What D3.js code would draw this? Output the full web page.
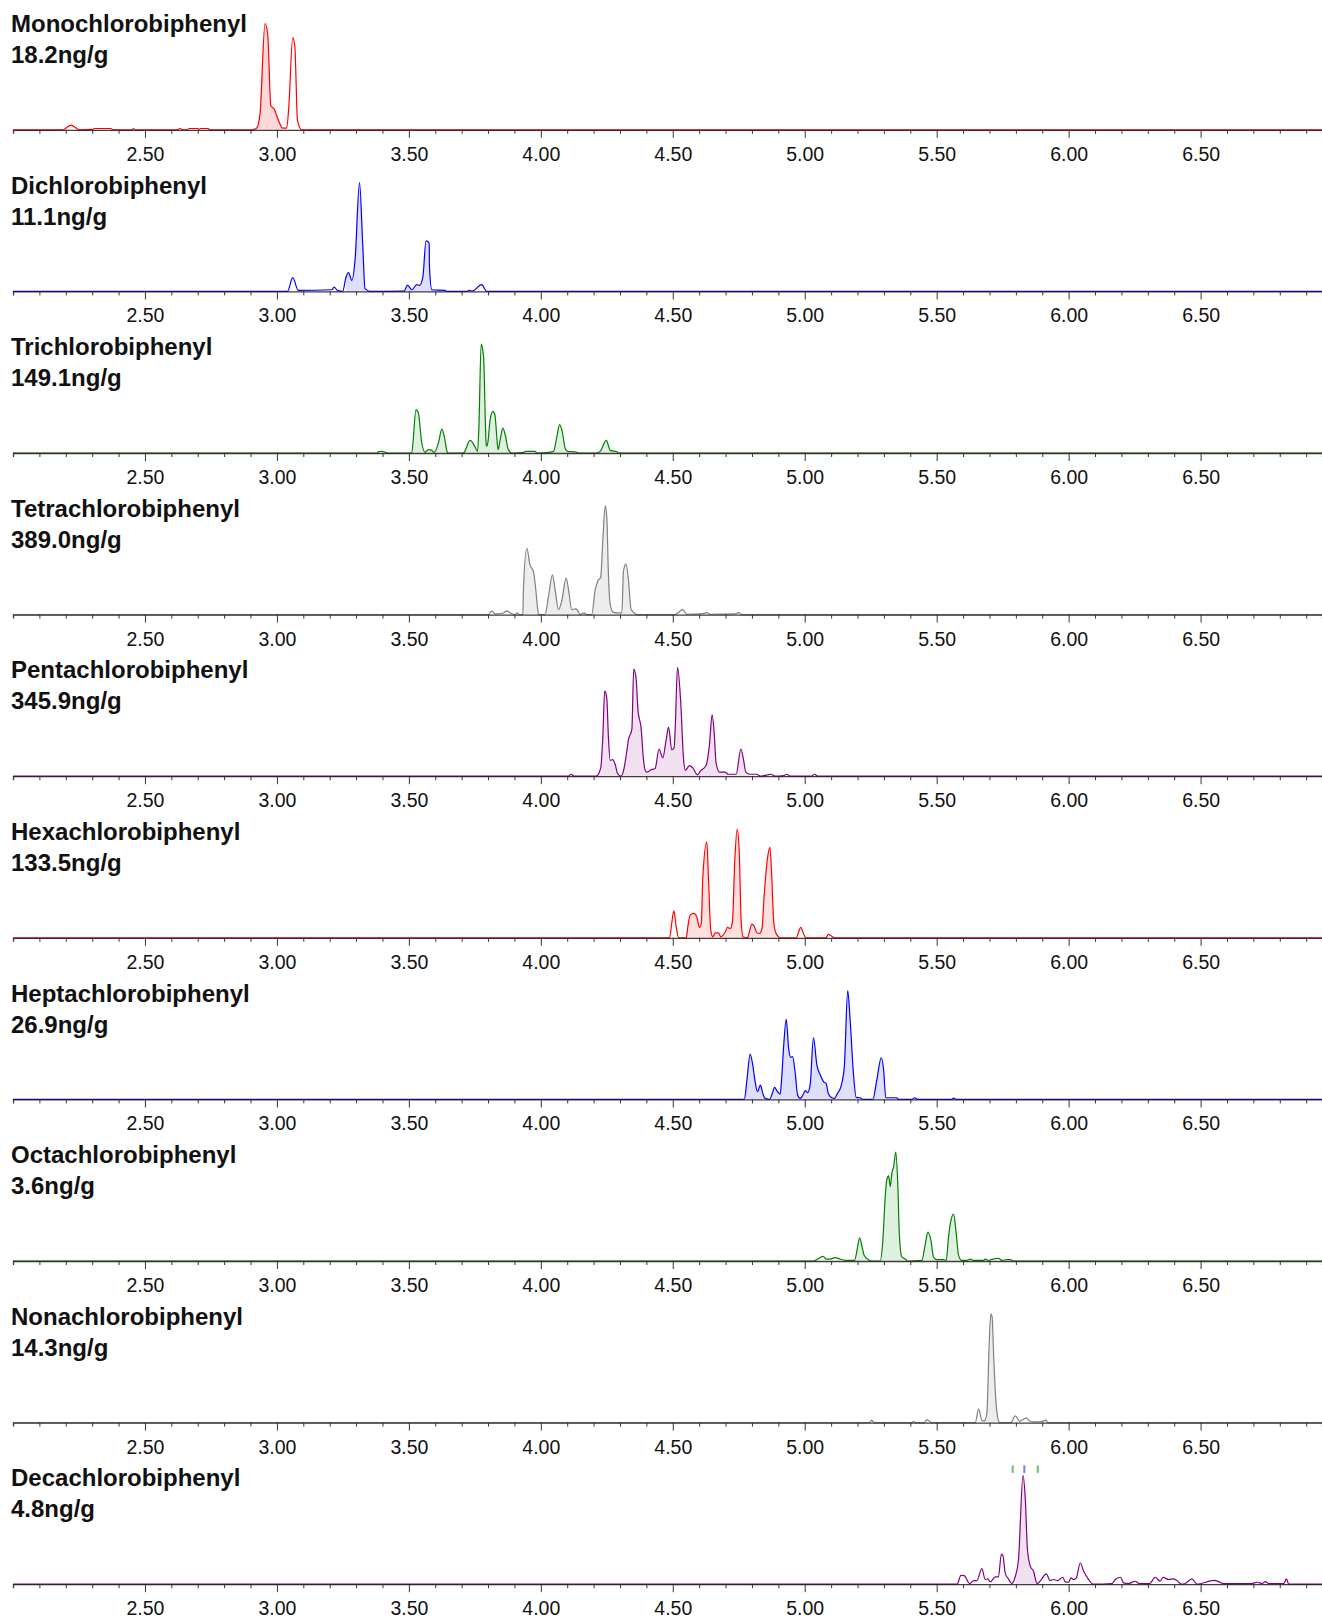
<!DOCTYPE html>
<html>
<head>
<meta charset="utf-8">
<script src="https://cdn.jsdelivr.net/npm/d3@7/dist/d3.min.js"></script>
<style>
  html, body { margin: 0; padding: 0; background: #fff; }
  svg { display: block; }
  .title { font-family: "Liberation Sans", Arial, sans-serif; font-weight: bold; font-size: 24px; fill: #111; }
  .tick-label { font-family: "Liberation Sans", Arial, sans-serif; font-size: 19.5px; fill: #111; }
</style>
</head>
<body>
<svg id="chart" width="1322" height="1616"></svg>
<script>
// ---- Data ----
const compounds = ["Monochlorobiphenyl","Dichlorobiphenyl","Trichlorobiphenyl","Tetrachlorobiphenyl","Pentachlorobiphenyl","Hexachlorobiphenyl","Heptachlorobiphenyl","Octachlorobiphenyl","Nonachlorobiphenyl","Decachlorobiphenyl"];
const amounts = ["18.2ng/g","11.1ng/g","149.1ng/g","389.0ng/g","345.9ng/g","133.5ng/g","26.9ng/g","3.6ng/g","14.3ng/g","4.8ng/g"];
const colors = ["#ff0000","#0000ff","#008000","#808080","#800080","#ff0000","#0000ff","#008000","#808080","#800080"];
const tickLabels = ["2.50","3.00","3.50","4.00","4.50","5.00","5.50","6.00","6.50"];
const timeDomain = [2.0, 6.96];

// retention time (min), relative intensity (%)
const mono = [[2.0,0],[2.19,0],[2.20,1.5],[2.22,4.3],[2.24,1.5],[2.25,0],[2.30,0.4],[2.31,1.2],[2.37,1.2],[2.38,0],[2.45,0],[2.456,1.2],[2.465,0],[2.62,0],[2.633,1.2],[2.645,0],[2.66,0],[2.668,1.2],[2.70,1.2],[2.705,0.4],[2.71,1.2],[2.74,1.2],[2.745,0],
  [2.905,0],[2.923,1.5],[2.936,14.7],[2.955,97.5],[2.965,88.3],[2.977,22.1],[2.989,19.3],[3.006,8.6],[3.022,1.5],[3.037,1.5],[3.045,20.9],[3.060,84.7],[3.068,76.1],[3.078,8.6],[3.094,0],[6.96,0]];
const di = [[2.0,0],[3.040,0],[3.060,12.6],[3.081,0.9],[3.208,1.5],[3.217,4],[3.229,0.9],[3.249,0],[3.262,13.2],[3.271,17.2],[3.284,10.2],[3.296,28.6],[3.313,100],[3.325,44],[3.334,2.5],[3.353,0],
  [3.482,0.3],[3.495,5.8],[3.511,1.5],[3.530,6.2],[3.540,5.5],[3.553,13.2],[3.565,46.5],[3.573,45.5],[3.577,44],[3.578,23],[3.587,1.5],[3.637,1],[3.644,0],
  [3.720,0],[3.730,1],[3.740,0.3],[3.776,6.2],[3.795,0],[6.96,0]];
const tri = [[2.0,0],[3.380,0],[3.385,1.2],[3.397,1.5],[3.416,0.3],[3.42,0],[3.505,0],[3.511,0.6],[3.527,39.8],[3.536,36.7],[3.549,9.2],[3.562,0.6],[3.574,3.1],[3.587,2.4],[3.596,0.6],[3.612,9.2],[3.625,22],[3.634,15.3],[3.646,0.6],[3.65,0],
  [3.705,0],[3.709,0.6],[3.732,11.6],[3.751,5.5],[3.760,1.5],[3.765,21.4],[3.774,100],[3.783,88.7],[3.793,7.6],[3.795,6.2],[3.799,9.2],[3.808,30.6],[3.818,38.2],[3.826,35.2],[3.833,15.3],[3.838,3.1],[3.846,12.2],[3.856,22.9],[3.865,16.8],[3.877,3.1],[3.890,0],
  [3.937,0.6],[3.941,1.5],[3.978,1.5],[3.985,0],[4.029,0.6],[4.048,1.5],[4.061,15.3],[4.071,26],[4.081,19.9],[4.092,4.6],[4.101,1.5],[4.134,0.9],[4.143,0],
  [4.210,0],[4.225,1.5],[4.248,11.6],[4.263,2.4],[4.288,1.2],[4.294,0],[6.96,0]];
const tetra = [[2.0,0],[3.802,0],[3.814,3.4],[3.827,0.6],[3.858,1.5],[3.871,3.4],[3.884,1.5],[3.903,0],[3.911,1.5],[3.919,0],[3.932,0],[3.934,22.9],[3.947,61],[3.959,45.7],[3.972,39.6],[3.981,22.9],[3.987,7.6],[3.992,0],
  [4.016,0],[4.029,16.8],[4.044,36.6],[4.054,22.9],[4.067,4.6],[4.079,12.2],[4.096,33.5],[4.105,22.9],[4.117,4.6],[4.130,5.2],[4.139,4],[4.149,0],[4.164,1.5],[4.174,0],
  [4.193,0],[4.206,22.9],[4.215,30.5],[4.227,34.5],[4.235,68.6],[4.244,100],[4.250,89.9],[4.256,38.1],[4.263,9.1],[4.275,2.1],[4.301,1.5],[4.307,1.5],[4.313,39.6],[4.323,46.6],[4.332,32],[4.342,4.6],[4.351,2.1],[4.364,0],
  [4.505,0],[4.515,0.9],[4.538,4.6],[4.553,0.3],[4.616,0.9],[4.629,1.8],[4.642,0.3],[4.736,0.6],[4.749,1.8],[4.762,0],[6.96,0]];
const penta = [[2.0,0],[4.105,0],[4.115,1.8],[4.126,0],[4.210,0],[4.227,7.6],[4.235,36.6],[4.242,78.4],[4.250,71.6],[4.256,36.6],[4.263,14.6],[4.272,15.2],[4.282,10.7],[4.290,3],[4.303,0],[4.313,4.6],[4.323,18.3],[4.332,33.5],[4.345,43.3],[4.352,98.5],[4.361,89.9],[4.368,61],[4.380,44.2],[4.389,15.2],[4.397,4.6],[4.404,3.7],[4.414,5.5],[4.433,7],[4.448,25],[4.462,16.8],[4.475,33.5],[4.484,45.1],[4.496,24.4],[4.505,25.9],[4.509,42.7],[4.518,100],[4.530,68.6],[4.541,15.2],[4.548,5.5],[4.563,9.8],[4.576,7.6],[4.594,1.2],[4.604,4.6],[4.626,9.8],[4.639,29],[4.649,56.4],[4.657,39.6],[4.664,12.2],[4.677,3.7],[4.698,3.7],[4.711,1.8],[4.740,1.8],[4.758,25],[4.768,15.2],[4.777,3.7],[4.793,1.8],[4.819,1.8],[4.831,0],[4.859,1.2],[4.872,1.8],[4.888,0],[4.920,0.6],[4.932,1.8],[4.945,0],[5.027,0],[5.037,1.8],[5.049,0],[6.96,0]];
const hexa = [[2.0,0],[4.488,0],[4.496,13.2],[4.504,24.8],[4.513,10.1],[4.522,0],[4.551,0],[4.557,10.1],[4.566,20.9],[4.579,22.4],[4.591,19.3],[4.601,9.5],[4.608,13.2],[4.614,56.1],[4.629,88.3],[4.635,56.1],[4.644,7.1],[4.652,0.9],[4.661,4.6],[4.673,4.6],[4.682,0.9],[4.699,5.5],[4.707,9.5],[4.718,8.6],[4.726,14.7],[4.735,71.5],[4.744,100],[4.752,77.6],[4.759,16.3],[4.766,0.9],[4.783,0],[4.790,5.5],[4.800,12.6],[4.808,10.7],[4.819,4.6],[4.829,4],[4.838,8.6],[4.846,37.7],[4.858,71.5],[4.868,83.1],[4.875,56.1],[4.882,16.3],[4.889,5.5],[4.901,0.9],[4.907,0],
  [4.968,0],[4.977,5.5],[4.985,9.5],[4.995,4],[5.004,0],[5.080,0],[5.090,3.1],[5.099,2.1],[5.112,0],[6.96,0]];
const hepta = [[2.0,0],[4.771,0],[4.781,17.8],[4.793,41.7],[4.802,33.1],[4.812,16.3],[4.821,7.1],[4.832,13.2],[4.841,5.5],[4.850,0.9],[4.867,0],[4.875,4],[4.886,11],[4.894,8],[4.907,4.9],[4.913,20.9],[4.920,48.5],[4.930,73.6],[4.939,46.9],[4.947,38.7],[4.954,39.3],[4.964,23.9],[4.973,4],[4.983,0.9],[4.993,4],[5.002,8],[5.011,6.1],[5.021,14.7],[5.033,56.7],[5.046,31.6],[5.059,22.4],[5.071,16.3],[5.081,14.7],[5.090,4.9],[5.103,1.5],[5.113,0.9],[5.124,5.5],[5.137,11.7],[5.150,30.1],[5.163,100],[5.172,73],[5.185,22.4],[5.195,1.8],[5.210,1.5],[5.220,0],[5.258,0],[5.273,17.8],[5.290,38.3],[5.299,27],[5.307,1.5],[5.349,1.5],[5.355,0],[5.406,0],[5.416,1.5],[5.428,0],[5.558,0],[5.564,1.2],[5.574,0],[6.96,0]];
const octa = [[2.0,0],[5.033,0],[5.052,2.2],[5.069,4.3],[5.081,1.8],[5.096,1.8],[5.115,3.1],[5.134,1.8],[5.157,0.6],[5.189,0.6],[5.198,9.8],[5.208,21.2],[5.216,14.5],[5.225,5.2],[5.242,1.2],[5.254,0],[5.286,0],[5.296,19.1],[5.305,59.1],[5.311,74.5],[5.318,78.2],[5.324,68.3],[5.330,80.6],[5.337,86.8],[5.345,100],[5.352,74.5],[5.359,22.2],[5.368,3.7],[5.381,1.8],[5.390,0],[5.444,0.6],[5.457,16],[5.467,26.5],[5.478,19.1],[5.488,3.7],[5.501,1.2],[5.526,1.2],[5.536,0.6],[5.545,22.2],[5.551,33.5],[5.564,43.1],[5.574,25.2],[5.583,5.2],[5.595,0.6],[5.614,0.6],[5.627,1.8],[5.640,0.6],[5.678,0.6],[5.684,1.8],[5.697,0.6],[5.709,1.5],[5.734,2.5],[5.747,0.6],[5.766,1.2],[5.779,1.2],[5.791,0],[6.96,0]];
const nona = [[2.0,0],[5.246,0],[5.254,2.2],[5.263,0],[5.406,0],[5.412,1.2],[5.419,0],[5.453,0],[5.463,2.8],[5.476,0.6],[5.482,0],[5.646,0],[5.659,12.3],[5.671,2.2],[5.680,1.5],[5.690,8.3],[5.699,72.9],[5.705,100],[5.710,97.5],[5.716,60.6],[5.726,14.5],[5.738,0],[5.781,0],[5.798,6.2],[5.814,1.2],[5.827,2.8],[5.839,4.3],[5.854,1.2],[5.870,0.6],[5.892,0.6],[5.915,2.2],[5.920,0],[6.96,0]];
const deca = [[2.0,0],[5.577,0],[5.592,8.2],[5.604,7.9],[5.625,0.6],[5.640,3.3],[5.652,3.3],[5.671,14.3],[5.684,4.3],[5.693,4.9],[5.703,2.1],[5.722,6.7],[5.734,6.7],[5.745,27.7],[5.751,26.1],[5.760,9.7],[5.772,4.9],[5.785,0.6],[5.798,7.3],[5.810,22.5],[5.827,100],[5.836,77.2],[5.844,31.6],[5.855,16.4],[5.867,11.9],[5.880,0.6],[5.892,2.7],[5.915,9.4],[5.930,3.3],[5.943,4.3],[5.958,3.3],[5.978,6.4],[5.987,2.1],[6.000,1.8],[6.009,5.8],[6.019,4.3],[6.029,5.8],[6.044,19.5],[6.057,11.9],[6.076,4.3],[6.092,0],[6.164,0.6],[6.177,4.3],[6.196,6.4],[6.208,1.2],[6.227,0.6],[6.252,2.7],[6.269,0.6],[6.307,0.6],[6.328,6.4],[6.347,2.7],[6.357,6.4],[6.379,4.3],[6.398,4.9],[6.410,3.3],[6.429,0],[6.442,0.6],[6.467,4.9],[6.486,0],[6.552,3.6],[6.568,2.4],[6.587,0.6],[6.695,0.6],[6.714,1.8],[6.733,0.6],[6.745,2.4],[6.758,0.6],[6.815,0.6],[6.825,4.9],[6.834,0],[6.96,0]];

// integrated (filled) retention-time windows per compound
const fillWindows = [
  [[2.90, 3.03]],
  [[3.25, 3.36], [3.48, 3.65]],
  [[3.50, 3.90], [4.02, 4.15], [4.20, 4.30]],
  [[3.93, 4.37]],
  [[4.20, 4.80]],
  [[4.55, 4.91]],
  [[4.77, 5.36]],
  [[5.18, 5.60]],
  [[5.68, 5.74]],
  [[5.79, 5.89]]
];
// retention-window markers drawn above the decachlorobiphenyl peak
const decaMarkers = [5.788, 5.832, 5.883];
const decaMarkerColors = ["#6cbf6c", "#7b7bf0", "#6cbf6c"];

const traces = [mono, di, tri, tetra, penta, hexa, hepta, octa, nona, deca];
const fills = ["rgba(255,0,0,0.15)","rgba(0,0,255,0.13)","rgba(0,128,0,0.12)","rgba(128,128,128,0.14)","rgba(128,0,128,0.12)","rgba(255,0,0,0.13)","rgba(0,0,255,0.13)","rgba(0,128,0,0.12)","rgba(128,128,128,0.14)","rgba(128,0,128,0.12)"];

// ---- Layout ----
const W = 1322, H = 1616;
const panelH = H / compounds.length;
const baseY = 129.8, topY = 21;

const svg = d3.select("#chart");
svg.append("rect").attr("width", W).attr("height", H).attr("fill", "#fff");

const x = d3.scaleLinear().domain(timeDomain).range([13, 1322]);
const y = d3.scaleLinear().domain([0, 100]).range([baseY, topY]);

const minorTicks = d3.range(21, 70).map(v => v / 10).filter(v => Math.round(v * 10) % 5 !== 0);
const majorTicks = tickLabels.map(Number);

const line = d3.line().x(d => x(d[0])).y(d => y(d[1])).curve(d3.curveMonotoneX);
const area = d3.area().x(d => x(d[0])).y0(y(0)).y1(d => y(d[1])).curve(d3.curveMonotoneX);

traces.forEach((data, i) => {
  const g = svg.append("g").attr("transform", `translate(0,${i * panelH})`);

  // fills
  fillWindows[i].forEach(([a, b]) => {
    const seg = data.filter(d => d[0] >= a && d[0] <= b);
    g.append("path").datum(seg).attr("d", area).attr("fill", fills[i]).attr("stroke", "none");
  });

  // trace
  g.append("path").datum(data).attr("d", line).attr("fill", "none").attr("stroke", colors[i]).attr("stroke-width", 1.2).attr("stroke-linejoin", "round");

  // axis (drawn over the trace baseline)
  const axis = d3.axisBottom(x).tickValues(minorTicks).tickSize(4).tickFormat("");
  const ag = g.append("g").attr("transform", `translate(0,${baseY})`).call(axis);
  ag.select(".domain").attr("stroke", "#241818").attr("stroke-opacity", 0.85).attr("stroke-width", 1.3);
  ag.selectAll(".tick line").attr("stroke", "#333");
  const axisMajor = d3.axisBottom(x).tickValues(majorTicks).tickSize(8).tickFormat((d, k) => tickLabels[k]);
  const mg = g.append("g").attr("transform", `translate(0,${baseY})`).call(axisMajor);
  mg.select(".domain").remove();
  mg.selectAll(".tick line").attr("stroke", "#333");
  mg.selectAll(".tick text").attr("class", "tick-label").attr("y", 15.5).attr("dy", "0.8em").attr("font-size", null).attr("font-family", null).attr("fill", null);

  // titles
  g.append("text").attr("class", "title").attr("x", 11).attr("y", 32).text(compounds[i]);
  g.append("text").attr("class", "title").attr("x", 11).attr("y", 63).text(amounts[i]);

  if (i === traces.length - 1) {
    decaMarkers.forEach((t, k) => {
      g.append("line").attr("x1", x(t)).attr("x2", x(t)).attr("y1", 11).attr("y2", 18.5)
        .attr("stroke", decaMarkerColors[k]).attr("stroke-width", 2);
    });
  }
});
</script>
</body>
</html>
